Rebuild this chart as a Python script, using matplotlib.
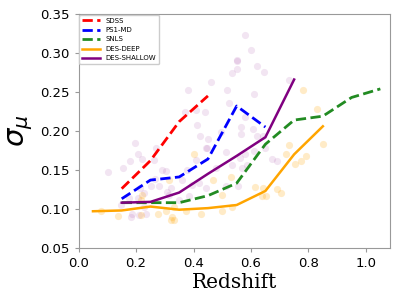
import matplotlib
matplotlib.use("Agg")
import matplotlib.pyplot as plt

# redshift bins used by the binned curves
sdss_z = [0.15, 0.25, 0.35, 0.45]
sdss_sig = [0.126, 0.162, 0.212, 0.245]

ps1_z = [0.15, 0.25, 0.35, 0.45, 0.55, 0.65]
ps1_sig = [0.113, 0.137, 0.141, 0.164, 0.232, 0.205]

snls_z = [0.15, 0.25, 0.35, 0.45, 0.55, 0.65, 0.75, 0.85, 0.95, 1.05]
snls_sig = [0.108, 0.108, 0.108, 0.117, 0.133, 0.183, 0.214, 0.219, 0.243, 0.254]

deep_z = [0.05, 0.15, 0.25, 0.35, 0.45, 0.55, 0.65, 0.75, 0.85]
deep_sig = [0.097, 0.098, 0.103, 0.099, 0.101, 0.105, 0.123, 0.170, 0.206]

shallow_z = [0.15, 0.25, 0.35, 0.45, 0.55, 0.65, 0.75]
shallow_sig = [0.108, 0.109, 0.121, 0.145, 0.168, 0.192, 0.266]

# individual supernovae (purple = shallow, orange = deep)
pur_z = [0.197, 0.38, 0.461, 0.37, 0.408, 0.44, 0.412, 0.424, 0.452, 0.446,
         0.518, 0.525, 0.533, 0.551, 0.551, 0.495, 0.268, 0.579, 0.60, 0.552,
         0.621, 0.644, 0.731, 0.61, 0.579, 0.565, 0.608, 0.565, 0.62, 0.64,
         0.104, 0.155, 0.179, 0.219, 0.206, 0.263, 0.266, 0.289, 0.305, 0.28,
         0.251, 0.309, 0.321, 0.213, 0.228, 0.205, 0.176, 0.147, 0.187, 0.182,
         0.21, 0.234, 0.228, 0.361, 0.378, 0.396, 0.419, 0.442, 0.442, 0.408,
         0.477, 0.384, 0.35, 0.315, 0.512, 0.535, 0.512, 0.562, 0.579, 0.568,
         0.585, 0.556, 0.61, 0.649, 0.672, 0.692]
pur_sig = [0.185, 0.252, 0.263, 0.224, 0.227, 0.224, 0.208, 0.194, 0.19, 0.178,
           0.253, 0.236, 0.275, 0.28, 0.291, 0.199, 0.178, 0.323, 0.304, 0.29,
           0.284, 0.276, 0.266, 0.247, 0.218, 0.205, 0.202, 0.196, 0.193, 0.194,
           0.147, 0.153, 0.162, 0.164, 0.171, 0.163, 0.138, 0.15, 0.149, 0.129,
           0.129, 0.122, 0.127, 0.127, 0.12, 0.114, 0.114, 0.105, 0.094, 0.089,
           0.092, 0.094, 0.103, 0.137, 0.15, 0.131, 0.133, 0.127, 0.178, 0.163,
           0.152, 0.116, 0.112, 0.118, 0.173, 0.156, 0.129, 0.165, 0.17, 0.153,
           0.156, 0.129, 0.174, 0.178, 0.164, 0.161]

ora_z = [0.782, 0.831, 0.733, 0.852, 0.077, 0.138, 0.222, 0.216, 0.278, 0.315,
         0.305, 0.332, 0.326, 0.332, 0.321, 0.373, 0.402, 0.425, 0.469, 0.50,
         0.498, 0.529, 0.216, 0.533, 0.614, 0.641, 0.639, 0.651, 0.692, 0.703,
         0.722, 0.753, 0.773, 0.791]
ora_sig = [0.253, 0.228, 0.182, 0.183, 0.097, 0.091, 0.118, 0.112, 0.094, 0.137,
           0.097, 0.103, 0.09, 0.086, 0.086, 0.097, 0.171, 0.094, 0.137, 0.118,
           0.097, 0.141, 0.092, 0.103, 0.128, 0.127, 0.117, 0.116, 0.125, 0.121,
           0.171, 0.158, 0.162, 0.168]

fig = plt.figure(figsize=(3.99, 2.93), dpi=100)
ax = fig.add_axes([0.197, 0.154, 0.78, 0.798])

ax.scatter(pur_z, pur_sig, s=27, color='purple', alpha=0.1, linewidths=0)
ax.scatter(ora_z, ora_sig, s=27, color='orange', alpha=0.22, linewidths=0)

ax.plot(sdss_z, sdss_sig, '--', color='red', lw=2, label='SDSS')
ax.plot(ps1_z, ps1_sig, '--', color='blue', lw=2, label='PS1-MD')
ax.plot(snls_z, snls_sig, '--', color='forestgreen', lw=2, label='SNLS')
ax.plot(deep_z, deep_sig, '-', color='orange', lw=1.8, label='DES-DEEP')
ax.plot(shallow_z, shallow_sig, '-', color='purple', lw=1.8, label='DES-SHALLOW')

ax.set_xlim(0, 1.083)
ax.set_ylim(0.05, 0.35)
ax.set_xticks([0.0, 0.2, 0.4, 0.6, 0.8, 1.0])
ax.set_yticks([0.05, 0.10, 0.15, 0.20, 0.25, 0.30, 0.35])
ax.tick_params(labelsize=9.5, color='#999999', length=3)
for sp in ax.spines.values():
    sp.set_color('#999999')

ax.set_xlabel('Redshift', family='DejaVu Serif', fontsize=14.5, labelpad=2)
plt.rcParams['mathtext.fontset'] = 'dejavuserif'
ax.set_ylabel(r'$\sigma_\mu$', fontsize=21, labelpad=4)

ax.legend(loc='upper left', fontsize=5, labelspacing=0.5, borderaxespad=0.1,
          handlelength=2.6, framealpha=1)

fig.savefig('out.png', dpi=100)
